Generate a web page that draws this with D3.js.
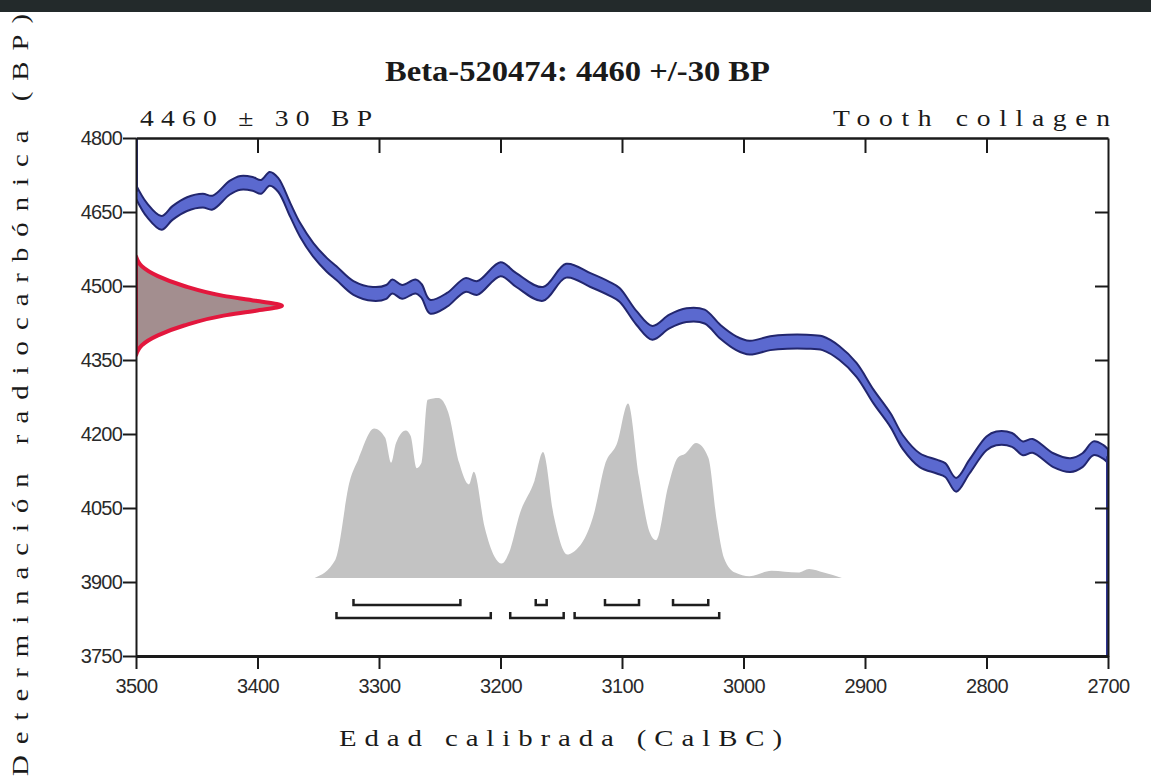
<!DOCTYPE html>
<html lang="es">
  <head>
    <meta charset="utf-8">
    <title>Beta-520474 calibración</title>
    <style>
      body { margin: 0; background: #ffffff; }
      #topbar { height: 12px; background: #232a2b; position: relative; z-index: 2; }
      svg { display: block; position: absolute; top: 0; left: 0; }
    </style>
  </head>
  <body>
    <div id="topbar"></div>
    <div id="chart-area"></div>
    <script src="https://cdn.jsdelivr.net/npm/d3@7"></script>
    <script>
      // ---- data ----
      const calYears = [3500, 3491, 3479, 3470, 3458, 3445, 3437, 3423, 3414, 3404, 3397, 3390, 3383, 3373,
        3365, 3354, 3343, 3335, 3321, 3305, 3294, 3289, 3281, 3270, 3265, 3258, 3244, 3229, 3219, 3200,
        3187, 3165, 3146, 3126, 3110, 3102, 3088, 3075, 3061, 3047, 3032, 3019, 3006, 2995, 2978, 2964,
        2948, 2935, 2921, 2907, 2893, 2879, 2869, 2855, 2841, 2834, 2825, 2814, 2800, 2792, 2779, 2770,
        2762, 2745, 2731, 2721, 2712, 2704, 2700];
      const calBP = [4691, 4654, 4628, 4648, 4666, 4673, 4669, 4699, 4709, 4707, 4701, 4717, 4705, 4654,
        4614, 4573, 4543, 4526, 4496, 4484, 4488, 4499, 4488, 4499, 4490, 4458, 4472, 4502, 4496, 4534,
        4512, 4484, 4531, 4512, 4494, 4482, 4435, 4405, 4428, 4441, 4438, 4407, 4384, 4375, 4384, 4387,
        4387, 4384, 4364, 4330, 4276, 4228, 4184, 4147, 4134, 4127, 4097, 4134, 4181, 4191, 4188, 4171,
        4176, 4147, 4137, 4147, 4171, 4164, 4155];
      const calErr = 14;

      const measBP = 4460;
      const measErr = 30;
      const gaussBP = [4560, 4540, 4520, 4500, 4480, 4470, 4460, 4450, 4440, 4420, 4400, 4380, 4360];
      const gaussVal = [0, 0.04, 0.15, 0.33, 0.6, 0.82, 1, 0.82, 0.6, 0.33, 0.15, 0.04, 0];

      const probYears = [3353, 3336, 3324, 3317, 3304, 3295, 3290, 3286, 3278, 3274, 3269, 3265, 3260,
        3251, 3243, 3234, 3226, 3222, 3213, 3205, 3199, 3193, 3184, 3172, 3165, 3156, 3145, 3141, 3123,
        3114, 3104, 3095, 3086, 3077, 3072, 3062, 3054, 3048, 3039, 3029, 3022, 3016, 3007, 2995, 2977,
        2955, 2946, 2934, 2919];
      const probVal = [0, 0.10, 0.54, 0.66, 0.83, 0.78, 0.64, 0.75, 0.82, 0.79, 0.61, 0.64, 0.99,
        1.00, 0.92, 0.64, 0.52, 0.59, 0.28, 0.12, 0.08, 0.14, 0.36, 0.54, 0.70, 0.34, 0.13, 0.14, 0.36,
        0.63, 0.75, 0.97, 0.56, 0.25, 0.21, 0.51, 0.67, 0.69, 0.75, 0.67, 0.32, 0.11, 0.03, 0.01, 0.04,
        0.03, 0.05, 0.03, 0];

      const range68 = [[3321, 3233], [3171, 3162], [3114, 3086], [3058, 3029]];
      const range95 = [[3335, 3208], [3192, 3148], [3139, 3020]];

      const xTicks = [3500, 3400, 3300, 3200, 3100, 3000, 2900, 2800, 2700];
      const yTicks = [3750, 3900, 4050, 4200, 4350, 4500, 4650, 4800];

      // ---- layout ----
      const svg_width = 1151;
      const svg_height = 781;
      const margin = {top: 138, right: 43, bottom: 125, left: 136};
      const w = svg_width - margin.left - margin.right;
      const h = svg_height - margin.top - margin.bottom;
      const gaussWidth = 146;   // px width of the measured date peak
      const probBase = 78;      // px above the bottom axis
      const probMax = 180;      // px height of the tallest peak

      const x_scale = d3.scaleLinear().domain([3500, 2700]).range([0, w]);
      const y_scale = d3.scaleLinear().domain([3750, 4800]).range([h, 0]);

      const svg = d3.select('#chart-area')
        .append('svg')
        .attr('width', svg_width)
        .attr('height', svg_height);

      svg.append('defs').append('clipPath').attr('id', 'plot-clip')
        .append('rect').attr('width', w).attr('height', h);

      const g = svg.append('g')
        .attr('transform', `translate(${margin.left},${margin.top})`);
      const plot = g.append('g').attr('clip-path', 'url(#plot-clip)');

      // probability distribution (grey)
      const probData = probYears.map((d, i) => ({year: d, p: probVal[i]}));
      plot.append('path')
        .datum(probData)
        .attr('fill', '#c3c3c3')
        .attr('d', d3.area()
          .x(d => x_scale(d.year))
          .y0(h - probBase)
          .y1(d => h - probBase - d.p * probMax)
          .curve(d3.curveMonotoneX));

      // calibration curve band
      const calData = calYears.map((d, i) => ({year: d, bp: calBP[i]}));
      plot.append('path')
        .datum(calData)
        .attr('fill', '#5b69cf')
        .attr('stroke', '#22266e')
        .attr('stroke-width', 2)
        .attr('stroke-linejoin', 'round')
        .attr('d', d3.area()
          .x(d => x_scale(d.year))
          .y0(d => y_scale(d.bp - calErr))
          .y1(d => y_scale(d.bp + calErr))
          .curve(d3.curveCatmullRom));

      // edge lines of the curve along the frame
      plot.append('line')
        .attr('x1', x_scale(2700)).attr('x2', x_scale(2700))
        .attr('y1', y_scale(calBP[calBP.length - 1])).attr('y2', y_scale(3750))
        .attr('stroke', '#2c3290').attr('stroke-width', 4);
      plot.append('line')
        .attr('x1', x_scale(3500)).attr('x2', x_scale(3500))
        .attr('y1', y_scale(4800)).attr('y2', y_scale(calBP[0]))
        .attr('stroke', '#2c3290').attr('stroke-width', 4);

      // measured radiocarbon date (red)
      const gaussData = gaussBP.map((d, i) => ({bp: d, v: gaussVal[i]}));
      plot.append('path')
        .datum(gaussData)
        .attr('fill', '#a38e8f')
        .attr('stroke', '#e3173d')
        .attr('stroke-width', 4)
        .attr('stroke-linejoin', 'round')
        .attr('d', d3.area()
          .y(d => y_scale(d.bp))
          .x0(0)
          .x1(d => d.v * gaussWidth)
          .curve(d3.curveMonotoneY));

      // calibrated ranges
      const drawRanges = (ranges, offset) => {
        const yy = h - offset;
        ranges.forEach(r => {
          const x1 = x_scale(r[0]), x2 = x_scale(r[1]);
          g.append('path')
            .attr('d', `M${x1},${yy - 6}V${yy}H${x2}V${yy - 6}`)
            .attr('fill', 'none')
            .attr('stroke', '#1e1e1e')
            .attr('stroke-width', 2.5);
        });
      };
      drawRanges(range68, 51);
      drawRanges(range95, 38);

      // axes
      const tickFont = '"Liberation Sans", Arial, sans-serif';
      const xAxis = g.append('g')
        .attr('transform', `translate(0,${h})`)
        .call(d3.axisBottom(x_scale).tickValues(xTicks).tickSize(13).tickSizeOuter(0).tickFormat(d3.format('d')));
      xAxis.select('.domain').attr('stroke-width', 3).attr('stroke', '#1a1a1a');
      xAxis.selectAll('.tick line').attr('stroke-width', 2).attr('stroke', '#1a1a1a');
      xAxis.selectAll('.tick text')
        .attr('font-family', tickFont).attr('font-size', 20).attr('fill', '#2a2a2a')
        .attr('y', 23).attr('dy', '0.71em').attr('letter-spacing', '-0.6px');

      const yAxis = g.append('g')
        .call(d3.axisLeft(y_scale).tickValues(yTicks).tickSize(13).tickSizeOuter(0).tickFormat(d3.format('d')));
      yAxis.select('.domain').attr('stroke-width', 2).attr('stroke', '#1a1a1a');
      yAxis.selectAll('.tick line').attr('stroke-width', 2).attr('stroke', '#1a1a1a');
      yAxis.selectAll('.tick text')
        .attr('font-family', tickFont).attr('font-size', 20).attr('fill', '#2a2a2a')
        .attr('x', -14).attr('letter-spacing', '-0.8px');

      const topAxis = g.append('g')
        .call(d3.axisTop(x_scale).tickValues(xTicks.slice(1, -1)).tickSize(-15).tickSizeOuter(0).tickFormat(''));
      topAxis.select('.domain').attr('stroke-width', 2.5).attr('stroke', '#1a1a1a');
      topAxis.selectAll('.tick line').attr('stroke-width', 2).attr('stroke', '#1a1a1a');

      const rightAxis = g.append('g')
        .attr('transform', `translate(${w},0)`)
        .call(d3.axisRight(y_scale).tickValues(yTicks.slice(1, -1)).tickSize(-13).tickSizeOuter(0).tickFormat(''));
      rightAxis.select('.domain').attr('stroke-width', 2).attr('stroke', '#1a1a1a');
      rightAxis.selectAll('.tick line').attr('stroke-width', 2).attr('stroke', '#1a1a1a');

      // texts (the serif labels are drawn wide, as in the original print)
      const serif = '"Liberation Serif", "Times New Roman", serif';
      const stretch = 1.2;
      svg.append('text')
        .attr('x', 385).attr('y', 81)
        .attr('font-family', serif).attr('font-weight', 'bold').attr('font-size', 30)
        .attr('fill', '#1a1a1a')
        .attr('textLength', 385).attr('lengthAdjust', 'spacingAndGlyphs')
        .text('Beta-520474: ' + measBP + ' +/-' + measErr + ' BP');

      const wideText = (tx, ty, rot, len, size, label) => {
        svg.append('text')
          .attr('transform', `translate(${tx},${ty}) rotate(${rot}) scale(${stretch},1)`)
          .attr('font-family', serif).attr('font-size', size).attr('fill', '#1a1a1a')
          .attr('textLength', len / stretch).attr('lengthAdjust', 'spacing')
          .text(label);
      };
      wideText(140, 126, 0, 232, 23, measBP + ' ± ' + measErr + ' BP');
      wideText(833, 126, 0, 277, 23, 'Tooth collagen');
      wideText(339, 746, 0, 443, 24, 'Edad calibrada (CalBC)');
      wideText(28, 776, -90, 762, 24, 'Determinación radiocarbónica (BP)');
    </script>
  </body>
</html>
